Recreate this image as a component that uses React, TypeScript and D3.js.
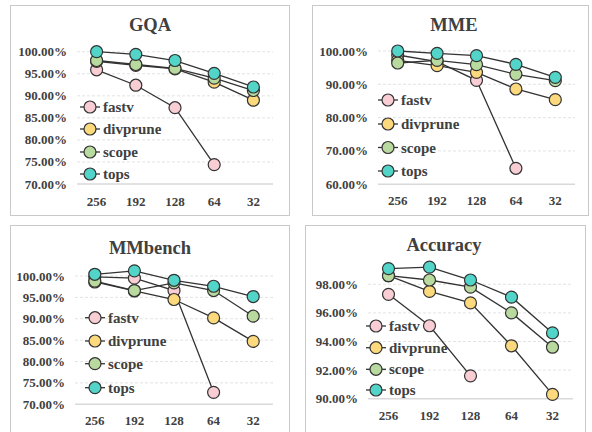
import React from 'react';
import * as d3 from 'd3';

// categories (token counts) and series names shared by all four panels
const categories = ['256', '192', '128', '64', '32'];
const seriesNames = ['fastv', 'divprune', 'scope', 'tops'];

// GQA
const gqaFastv = [95.9, 92.4, 87.3, 74.4, null];
const gqaDivprune = [97.8, 96.9, 96.1, 93.1, 89.0];
const gqaScope = [98.0, 97.1, 96.2, 94.0, 91.2];
const gqaTops = [100.0, 99.4, 98.0, 95.1, 92.0];
const gqaTicks = [70, 75, 80, 85, 90, 95, 100];

// MME
const mmeFastv = [98.8, 96.8, 91.2, 64.8, null];
const mmeDivprune = [97.2, 95.6, 93.6, 88.6, 85.4];
const mmeScope = [96.4, 97.2, 95.9, 93.0, 91.1];
const mmeTops = [100.0, 99.3, 98.6, 96.0, 92.1];
const mmeTicks = [60, 70, 80, 90, 100];

// MMbench
const mmbFastv = [99.8, 99.5, 96.6, 72.8, null];
const mmbDivprune = [98.6, 96.5, 94.5, 90.2, 84.7];
const mmbScope = [98.8, 96.6, 98.4, 96.6, 90.6];
const mmbTops = [100.4, 101.2, 99.0, 97.6, 95.2];
const mmbTicks = [70, 75, 80, 85, 90, 95, 100];

// Accuracy
const accFastv = [97.3, 95.1, 91.6, null, null];
const accDivprune = [98.6, 97.5, 96.7, 93.7, 90.3];
const accScope = [98.6, 98.3, 97.8, 96.0, 93.6];
const accTops = [99.1, 99.2, 98.3, 97.1, 94.6];
const accTicks = [90, 92, 94, 96, 98];

const colors = ['#f8cdd4', '#fcd97c', '#b9da9e', '#52d5c8'];
const textColor = '#404040';
const font = "'Liberation Serif', 'DejaVu Serif', serif";

// layout for each panel (pixels)
const panels = [
  {
    title: 'GQA', series: [gqaFastv, gqaDivprune, gqaScope, gqaTops], ticks: gqaTicks, domain: [70, 100],
    frame: [10, 5, 279, 210], plot: { left: 77, right: 273, top: 51.7, bottom: 184 },
    titleX: 150, titleY: 31, yLabelX: 67, xLabelY: 205.5, legendX: 90, legendY: [107, 129, 152, 174],
  },
  {
    title: 'MME', series: [mmeFastv, mmeDivprune, mmeScope, mmeTops], ticks: mmeTicks, domain: [60, 100],
    frame: [312, 5, 276, 210], plot: { left: 378, right: 575, top: 51, bottom: 184.3 },
    titleX: 454, titleY: 30.5, yLabelX: 368, xLabelY: 205, legendX: 388, legendY: [100, 124, 147.5, 171],
  },
  {
    title: 'MMbench', series: [mmbFastv, mmbDivprune, mmbScope, mmbTops], ticks: mmbTicks, domain: [70, 100],
    frame: [10, 225, 279, 230], plot: { left: 75, right: 273, top: 276, bottom: 404.3 },
    titleX: 150, titleY: 253.5, yLabelX: 65, xLabelY: 424.5, legendX: 95, legendY: [317.7, 341, 363.7, 387.7],
  },
  {
    title: 'Accuracy', series: [accFastv, accDivprune, accScope, accTops], ticks: accTicks, domain: [90, 100],
    frame: [305, 225, 280, 230], plot: { left: 368, right: 573, top: 255.7, bottom: 398.7 },
    titleX: 444, titleY: 251, yLabelX: 358, xLabelY: 419.5, legendX: 376, legendY: [326, 347.7, 369.3, 390],
  },
];

const pct = d3.format('.2%');
const txt = { fontFamily: font, fontWeight: 'bold' as const, fill: textColor };

function Panel({ p }: { p: any }) {
  const x = d3.scalePoint<string>().domain(categories).range([p.plot.left, p.plot.right]).padding(0.5);
  const y = d3.scaleLinear().domain(p.domain).range([p.plot.bottom, p.plot.top]);
  const line = d3.line<any>()
    .defined((d) => d.v != null)
    .x((d) => x(d.c) as number)
    .y((d) => y(d.v));
  const [fx, fy, fw, fh] = p.frame;

  return (
    <g>
      <rect x={fx + 0.5} y={fy + 0.5} width={fw} height={fh} fill="#fff" stroke="#c9c9c9" strokeWidth={1} />
      <text x={p.titleX} y={p.titleY} textAnchor="middle" style={{ ...txt, fontSize: 18.5 }}>{p.title}</text>

      {/* grid lines and y labels */}
      {p.ticks.map((t: number, i: number) => (
        <g key={t}>
          {i === 0 ? (
            <line x1={p.plot.left} x2={p.plot.right} y1={y(t)} y2={y(t)} stroke="#d9d9d9" strokeWidth={1.5} />
          ) : (
            <line x1={p.plot.left} x2={p.plot.right} y1={y(t)} y2={y(t)} stroke="#dcdcdc" strokeWidth={0.8} strokeDasharray="3,2" />
          )}
          <text x={p.yLabelX} y={y(t) + 4.5} textAnchor="end" style={{ ...txt, fontSize: 13 }}>{pct(t / 100)}</text>
        </g>
      ))}

      {/* x labels */}
      {categories.map((c) => (
        <text key={c} x={x(c)} y={p.xLabelY} textAnchor="middle" style={{ ...txt, fontSize: 13 }}>{c}</text>
      ))}

      {/* series */}
      {p.series.map((vals: (number | null)[], si: number) => {
        const pts = categories.map((c, i) => ({ c, v: vals[i] }));
        return (
          <g key={si}>
            <path d={line(pts) || ''} fill="none" stroke="#333" strokeWidth={1.3} />
            {pts.filter((d) => d.v != null).map((d) => (
              <circle key={d.c} cx={x(d.c)} cy={y(d.v as number)} r={6} fill={colors[si]} stroke="#333" strokeWidth={1.2} />
            ))}
          </g>
        );
      })}

      {/* legend */}
      {seriesNames.map((n, i) => (
        <g key={n}>
          <line x1={p.legendX - 10} x2={p.legendX + 10} y1={p.legendY[i]} y2={p.legendY[i]} stroke="#333" strokeWidth={1.3} />
          <circle cx={p.legendX} cy={p.legendY[i]} r={6} fill={colors[i]} stroke="#333" strokeWidth={1.2} />
          <text x={p.legendX + 13} y={p.legendY[i] + 5} style={{ ...txt, fontSize: 15 }}>{n}</text>
        </g>
      ))}
    </g>
  );
}

export default function App() {
  return (
    <svg width={592} height={432} style={{ position: 'absolute', left: 0, top: 0 }}>
      <rect width={592} height={432} fill="#fff" />
      {panels.map((p) => <Panel key={p.title} p={p} />)}
    </svg>
  );
}
